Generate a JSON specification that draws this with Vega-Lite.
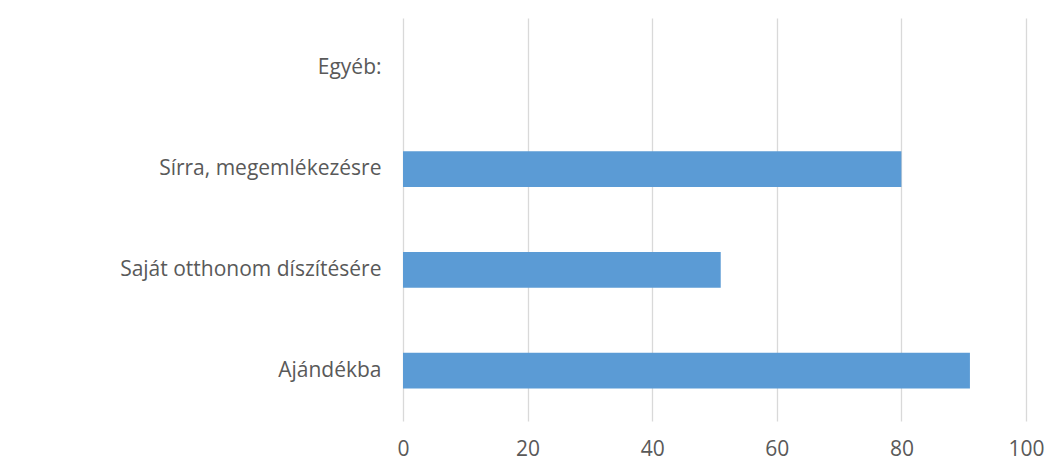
{
  "$schema": "https://vega.github.io/schema/vega-lite/v6.json",
  "width": 623,
  "height": 403,
  "autosize": {"type": "none"},
  "padding": {"left": 403, "top": 18, "right": 21, "bottom": 40},
  "background": "white",
  "config": {"view": {"stroke": null}},
  "data": {"values": [
    {"category": "Egyéb:", "value": 0},
    {"category": "Sírra, megemlékezésre", "value": 80},
    {"category": "Saját otthonom díszítésére", "value": 51},
    {"category": "Ajándékba", "value": 91}
  ]},
  "mark": {"type": "bar", "color": "#5B9BD5"},
  "encoding": {
    "y": {
      "field": "category", "type": "nominal", "sort": null,
      "scale": {"paddingInner": 0.645, "paddingOuter": 0.3225},
      "axis": {"title": null, "domain": false, "ticks": false, "labelFont": "Open Sans", "labelFontSize": 21, "labelColor": "#595959", "labelPadding": 22, "labelLimit": 400}
    },
    "x": {
      "field": "value", "type": "quantitative",
      "scale": {"domain": [0, 100], "nice": false},
      "axis": {"title": null, "values": [0, 20, 40, 60, 80, 100], "domain": false, "ticks": false, "grid": true, "gridColor": "#D9D9D9", "gridWidth": 1.3, "labelFont": "Open Sans", "labelFontSize": 21, "labelColor": "#595959", "labelPadding": 17, "labelFlush": false}
    }
  }
}
